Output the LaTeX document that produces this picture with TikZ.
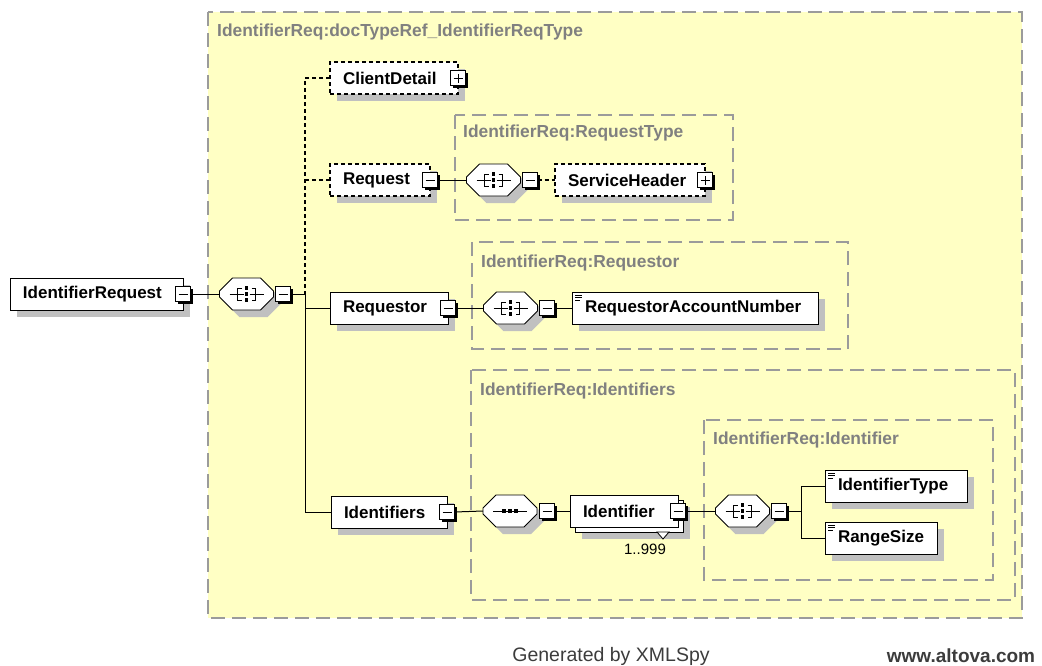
\documentclass[tikz,border=0pt]{standalone}
\usepackage{fontspec}
\setmainfont{Liberation Sans}
\usetikzlibrary{shadows}
\definecolor{bgyellow}{RGB}{255,255,196}
\definecolor{titlegray}{RGB}{128,128,128}
\definecolor{dashgray}{RGB}{155,155,155}
\definecolor{shadowgray}{RGB}{192,192,192}
\definecolor{footgray}{RGB}{60,60,60}
\hyphenpenalty=10000
\exhyphenpenalty=10000
\newcommand\octbody{%
  \fill[shadowgray] (-20,4) -- (-7,-9) -- (21,-9) -- (34,4) -- (34,10) -- (21,23) -- (-7,23) -- (-20,10) -- cycle;
  \draw[line width=0.9pt, fill=white] (-27,-3) -- (-14,-16) -- (14,-16) -- (27,-3) -- (27,3) -- (14,16) -- (-14,16) -- (-27,3) -- cycle;}
\begin{document}
\begin{tikzpicture}[x=1pt,y=-1pt,
  lbl/.style={font=\bfseries\fontsize{17}{19}\selectfont},
  shd/.style={drop shadow={shadow xshift=7pt, shadow yshift=-7pt, fill=shadowgray, draw=none, opacity=1}},
  box/.style={draw=black, line width=0.9pt, fill=white, anchor=north west, minimum height=32pt,
    inner ysep=0pt, inner xsep=13pt, outer sep=0pt, align=left, lbl, text width=#1},
  opt/.style={dash pattern=on 4pt off 3pt, line width=1.2pt},
  simple/.style={path picture={
    \draw[line width=0.8pt] ([xshift=3pt,yshift=-3pt]path picture bounding box.north west) -- +(7pt,0pt);
    \draw[line width=0.8pt] ([xshift=3pt,yshift=-5.5pt]path picture bounding box.north west) -- +(7pt,0pt);
    \draw[line width=0.8pt] ([xshift=3pt,yshift=-8pt]path picture bounding box.north west) -- +(5pt,0pt);}},
  pm/.style={draw=black, line width=0.9pt, fill=white, minimum size=15pt, inner sep=0pt, outer sep=0pt,
    drop shadow={shadow xshift=2.5pt, shadow yshift=-2.5pt, fill=black, draw=none, opacity=1}},
  minus/.style={pm, path picture={
    \draw[line width=1pt] ([xshift=-4.5pt]path picture bounding box.center) -- ([xshift=4.5pt]path picture bounding box.center);}},
  plus/.style={pm, path picture={
    \draw[line width=1pt] ([xshift=-4.5pt]path picture bounding box.center) -- ([xshift=4.5pt]path picture bounding box.center);
    \draw[line width=1pt] ([yshift=-4.5pt]path picture bounding box.center) -- ([yshift=4.5pt]path picture bounding box.center);}},
  octnode/.style={rectangle, draw=none, minimum width=54pt, minimum height=32pt, inner sep=0pt, outer sep=0pt},
  seqpic/.pic={
    \octbody
    \draw[line width=1pt] (-17,0) -- (-3,0) (3,0) -- (17,0);
    \draw[line width=1pt] (-5,-6) -- (-9,-6) -- (-9,6) -- (-5,6);
    \draw[line width=1pt] (5,-6) -- (9,-6) -- (9,6) -- (5,6);
    \fill[black] (-1.6,-7.6) rectangle (1.6,-4.4);
    \fill[black] (-1.8,-1.8) rectangle (1.8,1.8);
    \fill[black] (-1.6,4.4) rectangle (1.6,7.6);},
  choicepic/.pic={
    \octbody
    \draw[line width=1pt] (-17,0) -- (17,0);
    \fill[black] (-8,-2) rectangle (-4,2);
    \fill[black] (-2,-2) rectangle (2,2);
    \fill[black] (4,-2) rectangle (8,2);},
  outerdash/.style={draw=dashgray, line width=1.6pt, dash pattern=on 14pt off 7pt},
  typedash/.style={draw=dashgray, line width=1.2pt, dash pattern=on 14pt off 7pt},
  ttl/.style={anchor=west, text=titlegray, inner sep=0pt, font=\bfseries\fontsize{17.4}{19}\selectfont},
  conn/.style={draw=black, line width=1pt}
]
\useasboundingbox (0,0) rectangle (1042,665);

% background areas
\draw[outerdash, fill=bgyellow] (208,12) rectangle (1022,618);
\node[ttl] (t0) at (217,32) {IdentifierReq:docTypeRef\_IdentifierReqType};
\draw[typedash] (455,115) rectangle (733,220);
\node[ttl] (t1) at (463,133) {IdentifierReq:RequestType};
\draw[typedash] (472,242) rectangle (848,349);
\node[ttl] (t2) at (481,263) {IdentifierReq:Requestor};
\draw[typedash] (471,370) rectangle (1015,600);
\node[ttl] (t3) at (480,391) {IdentifierReq:Identifiers};
\draw[typedash] (704,420) rectangle (993,580);
\node[ttl] (t4) at (713,440) {IdentifierReq:Identifier};

% root
\node[box=147pt, shd] (ir) at (10,278) {IdentifierRequest};
\node[minus] (irm) at (183,294) {};
\node[octnode] (s1) at (246.5,294) {};
\pic at (s1) {seqpic};
\node[minus] (s1m) at (283,294) {};
\coordinate (j) at (305,294);

% ClientDetail
\node[box=102pt, shd, opt] (cd) at (330,62) {ClientDetail};
\node[plus] (cdp) at (458,78) {};

% Request
\node[box=74pt, shd, opt] (rq) at (330,164) {Request};
\node[minus] (rqm) at (430,180) {};
\node[octnode] (s2) at (493.5,180) {};
\pic at (s2) {seqpic};
\node[minus] (s2m) at (530,180) {};
\node[box=124pt, shd, opt] (sh) at (555,164) {ServiceHeader};
\node[plus] (shp) at (705,180) {};

% Requestor
\node[box=92pt, shd] (rr) at (330,292) {Requestor};
\node[minus] (rrm) at (448,308) {};
\node[octnode] (s3) at (510.5,308) {};
\pic at (s3) {seqpic};
\node[minus] (s3m) at (547,308) {};
\node[box=220pt, shd, simple] (ran) at (572,292) {RequestorAccountNumber};

% Identifiers
\node[box=90pt, shd] (ids) at (331,496) {Identifiers};
\node[minus] (idsm) at (447,512) {};
\node[octnode] (c1) at (510,511) {};
\pic at (c1) {choicepic};
\node[minus] (c1m) at (547,511) {};
\node[box=82pt, shd] (idb) at (575,500) {\phantom{Identifier}};
\node[box=82pt] (id) at (570,495) {Identifier};
\node[minus] (idm) at (678,511) {};
\draw[line width=0.8pt, fill=white] (657,532) -- (669,532) -- (663,539) -- cycle;
\node[inner sep=0pt, font=\fontsize{15}{17}\selectfont] (occ) at (645,549) {1..999};
\node[octnode] (s4) at (742.5,511) {};
\pic at (s4) {seqpic};
\node[minus] (s4m) at (779,511) {};
\coordinate (b) at (801,511);
\node[box=116pt, shd, simple] (it) at (825,470) {IdentifierType};
\node[box=86pt, shd, simple] (rs) at (825,522) {RangeSize};

% connectors
\draw[conn] (irm.east) -- (s1.west);
\draw[conn] (s1m.east) -- (j);
\draw[conn, opt] (cd.west) -| (j);
\draw[conn, opt] (rq.west) -- (rq.west -| j);
\draw[conn] (j) |- (rr.west);
\draw[conn] (j) |- (ids.west);
\draw[conn] (rqm.east) -- (s2.west);
\draw[conn, opt] (s2m.east) -- (sh.west);
\draw[conn] (rrm.east) -- (s3.west);
\draw[conn] (s3m.east) -- (ran.west);
\draw[conn] (idsm.east) -- (c1.west);
\draw[conn] (c1m.east) -- (id.west);
\draw[conn] (idm.east) -- (s4.west);
\draw[conn] (s4m.east) -- (b);
\draw[conn] (b) |- (it.west);
\draw[conn] (b) |- (rs.west);

% footer
\node[text=footgray, font=\fontsize{19.5}{22}\selectfont] (gen) at (611,656) {Generated by XMLSpy};
\node[text=footgray, font=\bfseries\fontsize{19}{22}\selectfont] (web) at (961,656) {www.altova.com};
\end{tikzpicture}
\end{document}
